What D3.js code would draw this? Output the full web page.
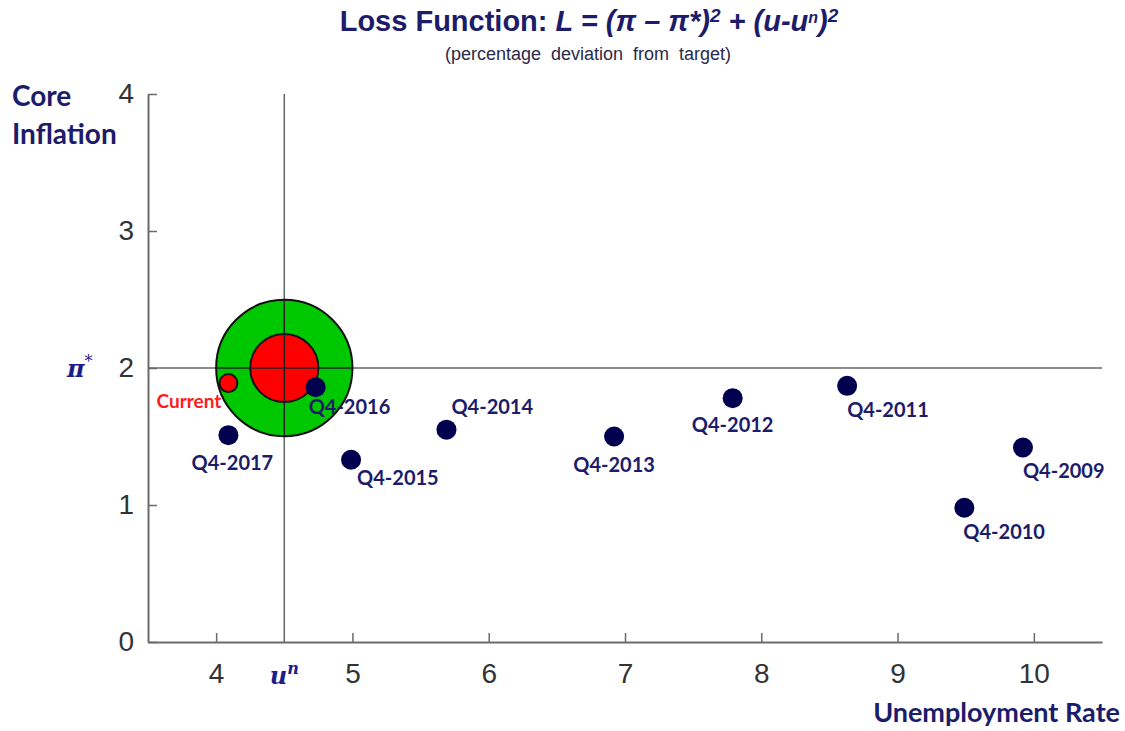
<!DOCTYPE html>
<html><head><meta charset="utf-8">
<script src="https://cdn.jsdelivr.net/npm/d3@7/dist/d3.min.js"></script>
<style>body{margin:0;background:#fff}svg{display:block}</style>
</head><body>
<svg id="c" width="1125" height="731"></svg>
<script>
// ---- data ----
const labels = ["Q4-2009","Q4-2010","Q4-2011","Q4-2012","Q4-2013","Q4-2014","Q4-2015","Q4-2016","Q4-2017"];
const unemployment = [9.92, 9.49, 8.63, 7.79, 6.92, 5.69, 4.99, 4.73, 4.09];
const coreInflation = [1.42, 0.98, 1.87, 1.78, 1.50, 1.55, 1.33, 1.86, 1.51];
const currentPoint = {u: 4.09, pi: 1.89, label: "Current"};
const uNatural = 4.5;
const piTarget = 2;
const lossRadii = [0.5, 0.25];
const xTicks = [4, 5, 6, 7, 8, 9, 10];
const yTicks = [0, 1, 2, 3, 4];

const svg = d3.select("#c");
const x = d3.scaleLinear().domain([3.5, 10.5]).range([148, 1102]);
const y = d3.scaleLinear().domain([0, 4]).range([642, 94]);
const navy = "#1c1c6b";
const axisCol = "#6b6b6b";

// title
const t = svg.append("text").attr("x", 589).attr("y", 31).attr("text-anchor", "middle")
  .attr("font-family", "Liberation Sans, Arial, sans-serif").attr("font-weight", "bold")
  .attr("font-size", 29).attr("fill", navy);
t.append("tspan").text("Loss Function: ");
const ti = t.append("tspan").attr("font-style", "italic");
ti.append("tspan").text("L = (π – π*)");
ti.append("tspan").attr("font-size", 19).attr("dy", -9).text("2");
ti.append("tspan").attr("dy", 9).text(" + (u-u");
ti.append("tspan").attr("font-size", 16).attr("dy", -8).text("n");
ti.append("tspan").attr("dy", 8).text(")");
ti.append("tspan").attr("font-size", 19).attr("dy", -9).text("2");
svg.append("text").attr("x", 588).attr("y", 60).attr("text-anchor", "middle")
  .attr("font-family", "Liberation Sans, Arial, sans-serif").attr("font-size", 18)
  .attr("fill", "#2a2a4a").attr("word-spacing", 5).text("(percentage deviation  from target)");

// axes
const fmt = d3.format("d");
const xAxis = d3.axisBottom(x).tickValues(xTicks).tickFormat(fmt).tickSizeInner(-9).tickSizeOuter(0).tickPadding(21);
const gx = svg.append("g").attr("transform", `translate(0,${y(0)})`).call(xAxis);
const yAxis = d3.axisLeft(y).tickValues(yTicks).tickFormat(fmt).tickSizeInner(-9).tickSizeOuter(0).tickPadding(14);
const gy = svg.append("g").attr("transform", `translate(${x(3.5)},0)`).call(yAxis);
[gx, gy].forEach(g => {
  g.select(".domain").attr("stroke", axisCol).attr("stroke-width", 2);
  g.selectAll(".tick line").attr("stroke", axisCol).attr("stroke-width", 1.5);
  g.selectAll(".tick text").attr("font-family", "Liberation Sans, Arial, sans-serif")
    .attr("font-size", 28).attr("fill", "#333");
});
gx.selectAll(".tick text").attr("dy", "0.71em");

// reference lines
svg.append("line").attr("x1", x(3.5)).attr("x2", x(10.5)).attr("y1", y(piTarget)).attr("y2", y(piTarget))
  .attr("stroke", "#666").attr("stroke-width", 1.5);
svg.append("line").attr("x1", x(uNatural)).attr("x2", x(uNatural)).attr("y1", y(4)).attr("y2", y(0))
  .attr("stroke", "#666").attr("stroke-width", 1.5);

// loss circles
const pxPerUnit = x(1) - x(0);
svg.append("circle").attr("cx", x(uNatural)).attr("cy", y(piTarget)).attr("r", lossRadii[0] * pxPerUnit)
  .attr("fill", "#00c800").attr("stroke", "#111").attr("stroke-width", 2);
svg.append("circle").attr("cx", x(uNatural)).attr("cy", y(piTarget)).attr("r", lossRadii[1] * pxPerUnit)
  .attr("fill", "#ff0000").attr("stroke", "#111").attr("stroke-width", 2);
// crosshair over circles
svg.append("line").attr("x1", x(uNatural) - lossRadii[0] * pxPerUnit).attr("x2", x(uNatural) + lossRadii[0] * pxPerUnit)
  .attr("y1", y(piTarget)).attr("y2", y(piTarget)).attr("stroke", "#222").attr("stroke-width", 1.5);
svg.append("line").attr("x1", x(uNatural)).attr("x2", x(uNatural))
  .attr("y1", y(piTarget) - lossRadii[0] * pxPerUnit).attr("y2", y(piTarget) + lossRadii[0] * pxPerUnit)
  .attr("stroke", "#222").attr("stroke-width", 1.5);

// current
svg.append("circle").attr("cx", x(currentPoint.u)).attr("cy", y(currentPoint.pi)).attr("r", 9)
  .attr("fill", "#ff0000").attr("stroke", "#111").attr("stroke-width", 2);
svg.append("text").attr("x", x(currentPoint.u) - 7).attr("y", y(currentPoint.pi) + 25)
  .attr("text-anchor", "end").attr("font-family", "Lato, sans-serif").attr("font-weight", "bold")
  .attr("font-size", 19).attr("fill", "#ff1a1a").text(currentPoint.label);

// points
const labelPos = {
  "Q4-2009": [0, 31, "start"], "Q4-2010": [-1, 31, "start"], "Q4-2011": [0, 31, "start"],
  "Q4-2012": [0, 34, "middle"], "Q4-2013": [0, 35, "middle"], "Q4-2014": [5, -16, "start"],
  "Q4-2015": [6, 25, "start"], "Q4-2016": [-7, 27, "start"], "Q4-2017": [4, 35, "middle"]
};
const data = labels.map((l, i) => ({label: l, u: unemployment[i], pi: coreInflation[i]}));
svg.selectAll(".dot").data(data).join("circle").attr("class", "dot")
  .attr("cx", d => x(d.u)).attr("cy", d => y(d.pi)).attr("r", 10).attr("fill", "#00004f");
svg.selectAll(".lbl").data(data).join("text").attr("class", "lbl")
  .attr("x", d => x(d.u) + labelPos[d.label][0]).attr("y", d => y(d.pi) + labelPos[d.label][1])
  .attr("text-anchor", d => labelPos[d.label][2])
  .attr("font-family", "Lato, sans-serif").attr("font-weight", "bold").attr("font-size", 20)
  .attr("fill", navy).text(d => d.label);

// axis titles
const at = svg.append("g").attr("font-family", "Lato, sans-serif").attr("font-weight", "bold")
  .attr("font-size", 28).attr("fill", navy);
at.append("text").attr("x", 12).attr("y", 106).text("Core");
at.append("text").attr("x", 12).attr("y", 144).text("Inflation");
at.append("text").attr("x", 1120).attr("y", 722).attr("text-anchor", "end").attr("font-size", 27).text("Unemployment Rate");

// symbolic labels
const sym = svg.append("g").attr("font-family", "DejaVu Serif, serif").attr("font-style", "italic")
  .attr("font-weight", "bold").attr("fill", "#1c1c8a");
const p = sym.append("text").attr("x", 67).attr("y", y(piTarget) + 9).attr("font-size", 24);
p.append("tspan").text("π");
p.append("tspan").attr("font-size", 16).attr("dy", -10).attr("font-weight", "normal").text("*");
const un = sym.append("text").attr("x", x(uNatural)).attr("y", 684).attr("text-anchor", "middle").attr("font-size", 24);
un.append("tspan").text("u");
un.append("tspan").attr("font-size", 16).attr("dy", -10).text("n");
</script>
</body></html>
